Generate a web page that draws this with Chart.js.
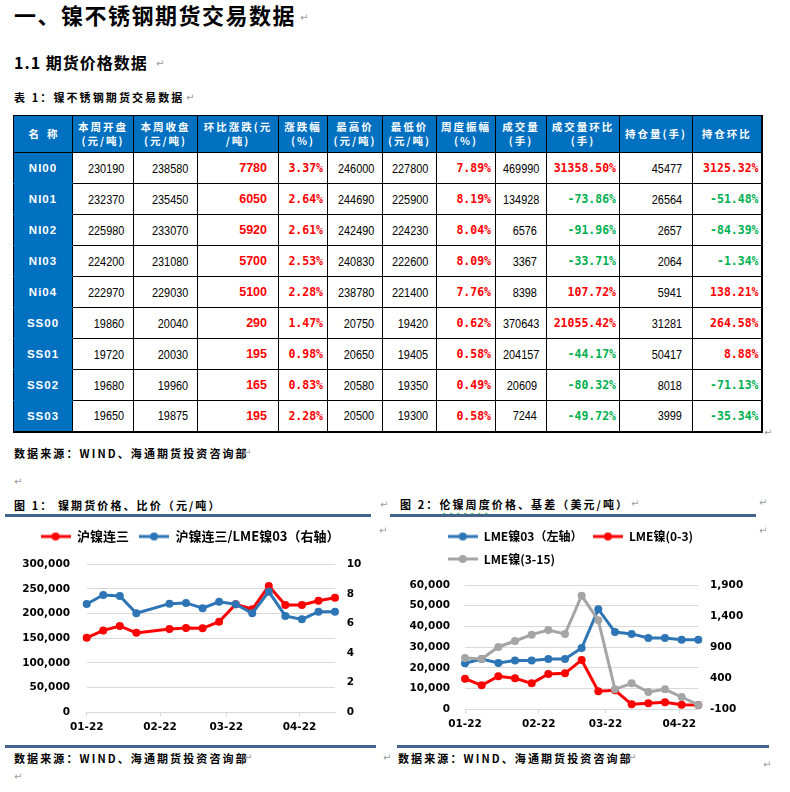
<!DOCTYPE html>
<html><head><meta charset="utf-8">
<script src="https://cdn.jsdelivr.net/npm/chart.js@4.4.1/dist/chart.umd.min.js"></script>
<style>
html,body{margin:0;padding:0;background:#fff;}
body{width:790px;height:792px;position:relative;overflow:hidden;font-family:"Noto Sans CJK SC",sans-serif;color:#000;}
.abs{position:absolute;white-space:nowrap;z-index:2;}
.pm{position:absolute;color:#9a9a9a;font-size:10px;font-weight:400;letter-spacing:0;z-index:3;font-family:"DejaVu Sans",sans-serif;line-height:12px;}
.h1{left:14px;top:-2px;font-size:22px;font-weight:700;letter-spacing:1.5px;line-height:32px;}
.h2{left:14px;top:50px;font-size:16px;font-weight:700;letter-spacing:1px;line-height:24px;}
.cap{font-size:11px;font-weight:700;letter-spacing:2.1px;line-height:16px;}
.rule{position:absolute;height:3px;background:#44648C;z-index:2;}
table{position:absolute;left:13px;top:115px;border-collapse:collapse;table-layout:fixed;width:748px;border-right:2px solid #000;border-bottom:2px solid #000;}
td,th{border:1px solid #000;padding:0;overflow:hidden;white-space:nowrap;}
th{background:#0070C0;color:#fff;font-size:10.5px;font-weight:700;letter-spacing:2px;line-height:14px;text-align:center;}
tr.hd{height:37px;}
tr.rw{height:31px;}
td.name{background:#0070C0;color:#fff;font-family:"Liberation Sans",Arial,sans-serif;font-weight:700;font-size:11.5px;letter-spacing:1px;text-align:center;border-top-color:#0070C0;border-bottom-color:#0070C0;}
td.num{font-family:"Liberation Sans",Arial,sans-serif;font-size:13px;text-align:right;}
td.num span{display:inline-block;transform:scaleX(0.84);transform-origin:100% 50%;}
td.int{font-family:"Liberation Sans",Arial,sans-serif;font-weight:700;font-size:12.5px;text-align:right;}
td.pct{font-family:"DejaVu Sans Mono",monospace;font-weight:700;font-size:11.5px;text-align:right;}
.red{color:#FF0000;} .green{color:#00B050;}
canvas{position:absolute;z-index:1;}
.wavy{text-decoration:underline wavy #3cb043;text-underline-offset:3px;text-decoration-thickness:1px;}
</style>
</head><body>

<div class="abs h1">一、镍不锈钢期货交易数据</div><div class="pm" style="left:300px;top:12px;">↵</div>
<div class="abs h2">1.1 期货价格数据</div><div class="pm" style="left:156px;top:58px;">↵</div>
<div class="abs cap" style="left:14px;top:89px;">表 1：镍不锈钢期货交易数据</div><div class="pm" style="left:186px;top:92px;">↵</div>

<table id="tbl"></table>
<div class="pm" style="left:764px;top:427px;">↵</div>

<div class="abs cap" style="left:14px;top:445px;">数据来源：WIND、海通期货投资咨询部</div><div class="pm" style="left:243px;top:447px;">↵</div>
<div class="pm" style="left:14px;top:476px;">↵</div>

<div class="abs cap" style="left:14px;top:497px;">图 1： 镍期货价格、比价（元/吨）</div><div class="pm" style="left:380px;top:499px;">↵</div>
<div class="rule" style="left:5px;top:514px;width:366px;"></div>
<div class="abs cap" style="left:400px;top:496px;">图 2：<span class="wavy">伦镍周度</span>价格、基差（美元/吨）</div><div class="pm" style="left:631px;top:498px;">↵</div>
<div class="pm" style="left:759px;top:497px;">↵</div>
<div class="rule" style="left:390px;top:514px;width:366px;"></div>
<div class="pm" style="left:379px;top:525px;">↵</div>
<div class="pm" style="left:759px;top:525px;">↵</div>

<canvas id="c1" width="380" height="220" style="left:0;top:520px;width:380px;height:220px;"></canvas>
<canvas id="c2" width="410" height="220" style="left:380px;top:520px;width:410px;height:220px;"></canvas>

<div class="rule" style="left:5px;top:745px;width:371px;"></div>
<div class="rule" style="left:397px;top:745px;width:372px;"></div>
<div class="abs cap" style="left:14px;top:750px;">数据来源：WIND、海通期货投资咨询部</div><div class="pm" style="left:244px;top:752px;">↵</div>
<div class="pm" style="left:383px;top:752px;">↵</div>
<div class="abs cap" style="left:398px;top:750px;">数据来源：WIND、海通期货投资咨询部</div><div class="pm" style="left:628px;top:752px;">↵</div>
<div class="pm" style="left:763px;top:759px;">↵</div>
<div class="pm" style="left:14px;top:771px;">↵</div>

<script>
// ---------- Table data ----------
const tableHeaders = ['名称','本周开盘<br>(元/吨)','本周收盘<br>(元/吨)','环比涨跌(元<br>/吨)','涨跌幅<br>(%)','最高价<br>(元/吨)','最低价<br>(元/吨)','周度振幅<br>(%)','成交量<br>(手)','成交量环比<br>(手)','持仓量(手)','持仓环比'];
const tableRows = [
  ['NI00','230190','238580','7780','3.37%','246000','227800','7.89%','469990','31358.50%','45477','3125.32%'],
  ['NI01','232370','235450','6050','2.64%','244690','225900','8.19%','134928','-73.86%','26564','-51.48%'],
  ['NI02','225980','233070','5920','2.61%','242490','224230','8.04%','6576','-91.96%','2657','-84.39%'],
  ['NI03','224200','231080','5700','2.53%','240830','222600','8.09%','3367','-33.71%','2064','-1.34%'],
  ['Ni04','222970','229030','5100','2.28%','238780','221400','7.76%','8398','107.72%','5941','138.21%'],
  ['SS00','19860','20040','290','1.47%','20750','19420','0.62%','370643','21055.42%','31281','264.58%'],
  ['SS01','19720','20030','195','0.98%','20650','19405','0.58%','204157','-44.17%','50417','8.88%'],
  ['SS02','19680','19960','165','0.83%','20580','19350','0.49%','20609','-80.32%','8018','-71.13%'],
  ['SS03','19650','19875','195','2.28%','20500','19300','0.58%','7244','-49.72%','3999','-35.34%']
];
const colWidths = [59,61,64,81,49,55,54,59,51,73,73,69];
const colKind = ['name','num','num','int','pct','num','num','pct','num','pct','num','pct'];
const colPad = [0,9,9,11,4,8,8,4,9,3,10,2];

// ---------- Chart data ----------
const weekDates1 = ['2022-01-07','2022-01-14','2022-01-21','2022-01-28','2022-02-11','2022-02-18','2022-02-25','2022-03-04','2022-03-11','2022-03-18','2022-03-25','2022-04-01','2022-04-08','2022-04-15','2022-04-22'];
const shNiThird = [151000,166000,175000,161000,169000,171000,170300,183600,219000,208800,256000,217500,217500,226200,232300];
const shLmeRatio = [7.32,7.93,7.86,6.69,7.34,7.39,7.03,7.47,7.30,6.69,8.15,6.51,6.28,6.80,6.80];
const weekDates2 = ['2022-01-07','2022-01-14','2022-01-21','2022-01-28','2022-02-04','2022-02-11','2022-02-18','2022-02-25','2022-03-04','2022-03-11','2022-03-18','2022-03-25','2022-04-01','2022-04-08','2022-04-15'];
const lmeNi03 = [22200,24300,22400,23500,23500,24300,24300,29600,48300,37300,36400,34400,34400,33600,33600];
const lmeSpread0to3 = [393,286,431,399,318,468,479,694,190,206,-20,-3,13,-25,-30];
const lmeSpread3to15 = [726,710,903,999,1101,1176,1112,1728,1332,222,318,179,222,98,-30];
const monthTickDates = ['2022-01-07','2022-02-07','2022-03-07','2022-04-07'];
const monthTickLabels = ['01-22','02-22','03-22','04-22'];
const ratioTicks = [0,2,4,6,8,10];
const chart1Labels = ['沪镍连三','沪镍连三/LME镍03（右轴）'];
const chart2Labels = ['LME镍03（左轴）','LME镍(0-3)','LME镍(3-15)'];

// ---------- Build table ----------
(function(){
  const t = document.getElementById('tbl');
  let h = '<colgroup>' + colWidths.map(w=>'<col style="width:'+w+'px">').join('') + '</colgroup>';
  h += '<tr class="hd">' + tableHeaders.map((x,i)=>'<th'+(i===0?' style="letter-spacing:8px;padding-left:8px"':'')+'>'+x+'</th>').join('') + '</tr>';
  tableRows.forEach(r=>{
    h += '<tr class="rw">' + r.map((v,i)=>{
      const k = colKind[i];
      let cls = k;
      if (k==='int'||k==='pct') cls += (v.charAt(0)==='-' ? ' green' : ' red');
      const st = k==='name' ? '' : ' style="padding-right:'+colPad[i]+'px"';
      const inner = k==='num' ? '<span>'+v+'</span>' : v;
      return '<td class="'+cls+'"'+st+'>'+inner+'</td>';
    }).join('') + '</tr>';
  });
  t.innerHTML = h;
})();

// ---------- Charts ----------
const RED = '#FF0000', BLUE = '#2E75B6', GRAY = '#A5A5A5';
const DAY = 86400000, BASE = Date.parse(weekDates1[0]);
const dayOf = s => (Date.parse(s) - BASE) / DAY;
const pts = (dates, vals) => dates.map((d,i)=>({x:dayOf(d), y:vals[i]}));
const TICKFONT = {family:'DejaVu Sans', size:10.5, weight:'bold'};
const CJK = '"Noto Sans CJK SC", sans-serif';

function marker(color){
  const c = document.createElement('canvas'); c.width = 30; c.height = 10;
  const g = c.getContext('2d');
  g.strokeStyle = color; g.lineWidth = 3;
  g.beginPath(); g.moveTo(0,5); g.lineTo(30,5); g.stroke();
  g.fillStyle = color; g.beginPath(); g.arc(15,5,4,0,Math.PI*2); g.fill();
  return c;
}
const legendGen = order => chart => order.map(i=>{
  const ds = chart.data.datasets[i];
  return {text: ds.label, pointStyle: marker(ds.borderColor), fillStyle: ds.borderColor, strokeStyle: ds.borderColor, lineWidth: 0, hidden: false, datasetIndex: i, fontColor: '#000'};
});
const legendBox = {
  id: 'legendBox',
  beforeInit(chart, args, opts){
    const lg = chart.legend; if (!lg) return;
    const fit = lg.fit;
    lg.fit = function(){ fit.call(this); this.height = opts.height; };
    if (opts.startX !== undefined){
      const draw = lg.draw;
      lg.draw = function(a){
        const l = this.left, r = this.right, p = this.options.labels.padding;
        this.left = opts.startX - p; this.right = this.left + opts.rowWidth;
        draw.call(this, a);
        this.left = l; this.right = r;
      };
    }
  }
};
const lineStyle = c => ({borderColor:c, backgroundColor:c, pointBackgroundColor:c, pointBorderColor:c, borderWidth:3, pointRadius:4, pointBorderWidth:0, tension:0, clip:false});
const xScale = (max, h) => ({
  type:'linear', min:0, max:max,
  afterBuildTicks: s => { s.ticks = monthTickDates.map(d=>({value:dayOf(d)})); },
  afterFit: s => { s.height = h; },
  ticks:{autoSkip:false, maxRotation:0, padding:5, callback:(v,i)=>monthTickLabels[i], font:TICKFONT, color:'#000'},
  grid:{drawOnChartArea:false, drawTicks:true, tickLength:4, color:'#d9d9d9'},
  border:{display:true, color:'#d9d9d9'}
});
const fmt = v => Number(v).toLocaleString('en-US');

new Chart(document.getElementById('c1'), {
  type:'line',
  data:{datasets:[
    Object.assign({label:chart1Labels[0], data:pts(weekDates1, shNiThird), yAxisID:'y', order:1}, lineStyle(RED)),
    Object.assign({label:chart1Labels[1], data:pts(weekDates1, shLmeRatio), yAxisID:'y1', order:0}, lineStyle(BLUE))
  ]},
  options:{
    responsive:false, animation:false, devicePixelRatio:1,
    layout:{padding:0},
    plugins:{
      legend:{position:'top', labels:{usePointStyle:true, pointStyleWidth:30, padding:10, color:'#000', font:{family:CJK, size:13, weight:'bold'}, generateLabels:legendGen([0,1])}},
      tooltip:{enabled:false},
      legendBox:{height:44.3}
    },
    scales:{
      x: xScale(105, 27.7),
      y:{position:'left', min:0, max:300000, afterFit:s=>{s.width=86.7;}, ticks:{stepSize:50000, padding:16.7, callback:fmt, font:TICKFONT, color:'#000'}, grid:{color:'#d9d9d9', drawTicks:false}, border:{display:false}},
      y1:{position:'right', min:0, max:10, afterFit:s=>{s.width=45;}, afterBuildTicks:s=>{ s.ticks = ratioTicks.map(v=>({value:v})); }, ticks:{autoSkip:false, padding:11.7, callback:fmt, font:TICKFONT, color:'#000'}, grid:{display:false, drawTicks:false}, border:{display:false}}
    }
  },
  plugins:[legendBox]
});

new Chart(document.getElementById('c2'), {
  type:'line',
  data:{datasets:[
    Object.assign({label:chart2Labels[0], data:pts(weekDates2, lmeNi03), yAxisID:'y', order:2}, lineStyle(BLUE)),
    Object.assign({label:chart2Labels[1], data:pts(weekDates2, lmeSpread0to3), yAxisID:'y1', order:1}, lineStyle(RED)),
    Object.assign({label:chart2Labels[2], data:pts(weekDates2, lmeSpread3to15), yAxisID:'y1', order:0}, lineStyle(GRAY))
  ]},
  options:{
    responsive:false, animation:false, devicePixelRatio:1,
    layout:{padding:0},
    plugins:{
      legend:{position:'top', align:'start', labels:{usePointStyle:true, pointStyleWidth:30, padding:10.5, color:'#000', font:{family:CJK, size:12, weight:'bold'}, generateLabels:legendGen([0,1,2])}},
      tooltip:{enabled:false},
      legendBox:{height:65, startX:67.7, rowWidth:300}
    },
    scales:{
      x: xScale(98, 30.7),
      y:{position:'left', min:0, max:60000, afterFit:s=>{s.width=85;}, ticks:{stepSize:10000, padding:15, callback:fmt, font:TICKFONT, color:'#000'}, grid:{color:'#d9d9d9', drawTicks:false}, border:{display:false}},
      y1:{position:'right', min:-100, max:1900, afterFit:s=>{s.width=91.7;}, ticks:{stepSize:500, padding:11.7, callback:fmt, font:TICKFONT, color:'#000'}, grid:{display:false, drawTicks:false}, border:{display:false}}
    }
  },
  plugins:[legendBox]
});
</script>
</body></html>
